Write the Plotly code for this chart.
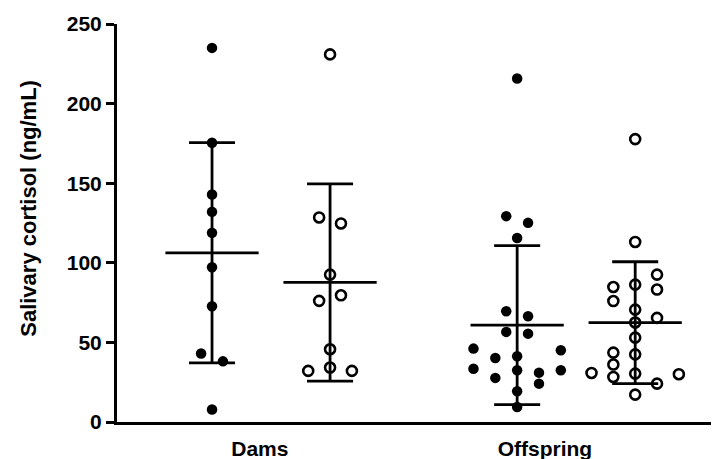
import numpy as np
import plotly.graph_objects as go

# ---- data ----
groups = ["Dams", "Offspring"]
y_ticks = [0, 50, 100, 150, 200, 250]

dams_filled = [235.0, 175.4, 142.9, 132.0, 118.8, 97.2, 72.7, 43.0, 38.1, 7.8]
dams_open = [230.9, 128.5, 124.7, 92.6, 79.6, 76.1, 45.7, 34.2, 32.1, 32.1]
off_filled = [215.8, 129.3, 125.1, 115.6, 69.6, 66.4, 56.6, 55.5, 46.1, 45.1,
              40.2, 41.3, 33.5, 32.5, 32.5, 31.0, 27.7, 24.1, 19.3, 9.4]
off_open = [177.7, 113.1, 92.6, 84.8, 86.3, 83.2, 76.0, 70.6, 65.4, 62.5,
            53.0, 43.6, 42.5, 36.1, 30.8, 28.3, 30.4, 30.0, 24.1, 17.2]

# ---- layout helpers (horizontal scatter slots, not data) ----
slots_dams_filled = [0, 0, 0, 0, 0, 0, 0, -1, 1, 0]
slots_dams_open = [0, -1, 1, 0, 1, -1, 0, 0, -2, 2]
slots_off_filled = [0, -1, 1, 0, -1, 1, -1, 1, -4, 4, -2, 0, -4, 4, 0, 2, -2, 2, 0, 0]
slots_off_open = [0, 0, 2, -2, 0, 2, -2, 0, 2, 0, 0, -2, 0, -2, -4, -2, 0, 4, 2, 0]

group_center = [2.61, 7.78]
label_pos = [2.42, 7.25]
series_offset = 1.0
slot_w = 0.185
mean_hw = 0.79
cap_hw = 0.39

series = [
    (dams_filled, slots_dams_filled, 0, -1, True),
    (dams_open, slots_dams_open, 0, 1, False),
    (off_filled, slots_off_filled, 1, -1, True),
    (off_open, slots_off_open, 1, 1, False),
]

fig = go.Figure()

for vals, slots, g, side, filled in series:
    xc = group_center[g] + side * series_offset
    xs = [xc + s * slot_w for s in slots]
    if filled:
        marker = dict(symbol="circle", size=10.5, color="black")
    else:
        marker = dict(symbol="circle-open", size=10, color="black", line=dict(width=2.6, color="black"))
    fig.add_trace(go.Scatter(x=xs, y=vals, mode="markers", marker=marker,
                             showlegend=False, hoverinfo="y", cliponaxis=False))
    arr = np.array(vals)
    m = arr.mean()
    sd = arr.std(ddof=1)
    lx = [xc - mean_hw, xc + mean_hw, None,
          xc, xc, None,
          xc - cap_hw, xc + cap_hw, None,
          xc - cap_hw, xc + cap_hw]
    ly = [m, m, None,
          m - sd, m + sd, None,
          m + sd, m + sd, None,
          m - sd, m - sd]
    fig.add_trace(go.Scatter(x=lx, y=ly, mode="lines",
                             line=dict(color="black", width=2.8),
                             showlegend=False, hoverinfo="skip"))

font_family = "Liberation Sans, Arial, sans-serif"

# page body adds an 8px margin, so the figure is sized to fit the 719x459 window
fig.update_layout(
    width=711, height=451,
    margin=dict(l=109, r=0, t=16, b=37, autoexpand=False),
    paper_bgcolor="white", plot_bgcolor="white",
    font=dict(family=font_family, color="black"),
    xaxis=dict(
        range=[0, 10.2], showgrid=False, zeroline=False, automargin=False,
        showline=True, linecolor="black", linewidth=3,
        tickmode="array", tickvals=label_pos, ticktext=["<b>%s</b>" % g for g in groups],
        ticks="outside", ticklen=6, tickcolor="rgba(0,0,0,0)",
        tickfont=dict(size=21, family=font_family, color="black"),
    ),
    yaxis=dict(
        range=[0, 250], showgrid=False, zeroline=False, automargin=False,
        showline=True, linecolor="black", linewidth=3,
        tickmode="array", tickvals=y_ticks, ticktext=["<b>%d</b>" % t for t in y_ticks],
        ticks="outside", ticklen=8, tickwidth=3, tickcolor="black",
        tickfont=dict(size=21, family=font_family, color="black"),
    ),
    annotations=[dict(
        text="<b>Salivary cortisol (ng/mL)</b>", textangle=-90,
        xref="paper", yref="paper", x=-0.146, y=0.536,
        xanchor="center", yanchor="middle", showarrow=False,
        font=dict(size=22, family=font_family, color="black"),
    )],
)

fig.write_html("out.html")
